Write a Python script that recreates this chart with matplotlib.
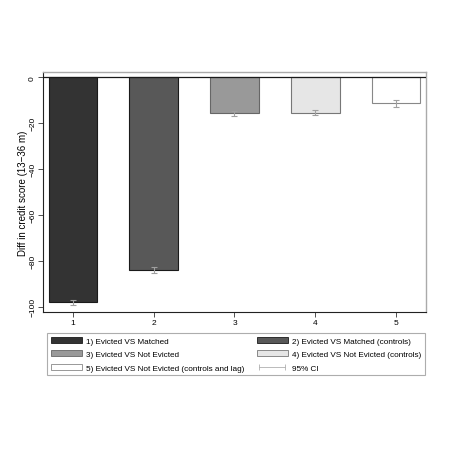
import numpy as np
import matplotlib.pyplot as plt
from matplotlib.patches import Patch
from matplotlib.lines import Line2D

plt.rcParams['font.family'] = ['Liberation Sans', 'DejaVu Sans']

# dati
groups = [1, 2, 3, 4, 5]
diffs = [-98.0, -83.8, -15.7, -15.4, -11.4]
ci_low = [-99.2, -85.1, -17.0, -16.6, -13.1]
ci_high = [-96.8, -82.6, -14.5, -14.3, -9.8]
labels = ["1) Evicted VS Matched",
          "2) Evicted VS Matched (controls)",
          "3) Evicted VS Not Evicted",
          "4) Evicted VS Not Evicted (controls)",
          "5) Evicted VS Not Evicted (controls and lag)"]
yticks = [0, -20, -40, -60, -80, -100]

fills = ["#333333", "#585858", "#999999", "#e6e6e6", "#ffffff"]
edges = ["#1a1a1a", "#1a1a1a", "#666666", "#777777", "#888888"]

fig = plt.figure(figsize=(4.6, 4.6), dpi=100)
ax = fig.add_axes([0.0935, 0.3196, 0.8325, 0.5214])

for g, d, fc, ec in zip(groups, diffs, fills, edges):
	ax.bar(g, d, width=0.6, color=fc, edgecolor=ec, linewidth=0.8, zorder=2)

d = np.array(diffs)
err = np.vstack([d - np.array(ci_low), np.array(ci_high) - d])
ax.errorbar(groups, diffs, yerr=err, fmt='none', ecolor="#a0a0a0",
			elinewidth=0.8, capsize=2, capthick=0.8, zorder=3)

ax.axhline(0, color="#1a1a1a", linewidth=0.9, zorder=4)

ax.set_xlim(0.63, 5.37)
ax.set_ylim(-102.2, 2.2)
ax.set_xticks(groups)
ax.set_yticks(yticks)
ax.set_yticklabels([str(t).replace('-', '\u2212') for t in yticks], rotation=90, va='center')
ax.tick_params(labelsize=6, length=3.5, width=0.6, color="#333333", pad=1.5)
ax.set_ylabel("Diff in credit score (13\u221236 m)", fontsize=7, labelpad=1)

for s in ['left', 'bottom']:
	ax.spines[s].set_color("#222222")
	ax.spines[s].set_linewidth(0.8)
for s in ['top', 'right']:
	ax.spines[s].set_color("#aaaaaa")
	ax.spines[s].set_linewidth(1.0)

handles = [Patch(facecolor=fc, edgecolor=ec, linewidth=0.6) for fc, ec in zip(fills, edges)]
handles.append(Line2D([0, 1], [0, 0], color="#b0b0b0", linewidth=0.6, marker='|',
					  markersize=4, markeredgewidth=0.6))
leg_labels = labels + ["95% CI"]
# ordine riga per riga con ncol=2
order = [0, 2, 4, 1, 3, 5]
leg = fig.legend([handles[i] for i in order], [leg_labels[i] for i in order],
				 ncol=2, loc='upper left', bbox_to_anchor=(0.102, 0.274),
				 fontsize=5.9, frameon=True, fancybox=False,
				 handlelength=3.8, handleheight=0.75, handletextpad=0.5,
				 labelspacing=0.7, borderpad=0.45, borderaxespad=0, numpoints=2,
				 columnspacing=1.5)
leg.get_frame().set_edgecolor("#999999")
leg.get_frame().set_linewidth(0.8)

plt.savefig("out.png", dpi=100)
